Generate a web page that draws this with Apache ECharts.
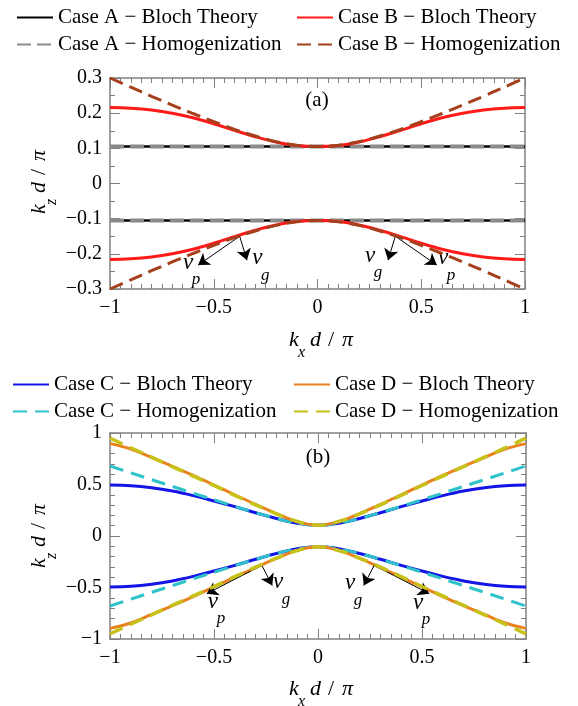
<!DOCTYPE html>
<html lang="en">
<head>
<meta charset="UTF-8">
<title>Bloch vs homogenization</title>
<style>
    html, body { margin: 0; padding: 0; background: #fff; }
    #main { width: 578px; height: 706px; }
</style>
</head>
<body>
<div id="main"></div>
<script src="https://cdn.jsdelivr.net/npm/echarts@6/dist/echarts.min.js"></script>
<script>
// kx d / pi sample points
var KX = [-1, -0.9, -0.8, -0.7, -0.6, -0.5, -0.4, -0.3, -0.2, -0.1, 0, 0.1, 0.2, 0.3, 0.4, 0.5, 0.6, 0.7, 0.8, 0.9, 1];

// (a) kz d / pi
var A_BLOCH_UP = [0.105, 0.105, 0.105, 0.105, 0.105, 0.105, 0.105, 0.105, 0.105, 0.105, 0.105, 0.105, 0.105, 0.105, 0.105, 0.105, 0.105, 0.105, 0.105, 0.105, 0.105];
var A_BLOCH_LO = [-0.105, -0.105, -0.105, -0.105, -0.105, -0.105, -0.105, -0.105, -0.105, -0.105, -0.105, -0.105, -0.105, -0.105, -0.105, -0.105, -0.105, -0.105, -0.105, -0.105, -0.105];
var A_HOM_UP = [0.105, 0.105, 0.105, 0.105, 0.105, 0.105, 0.105, 0.105, 0.105, 0.105, 0.105, 0.105, 0.105, 0.105, 0.105, 0.105, 0.105, 0.105, 0.105, 0.105, 0.105];
var A_HOM_LO = [-0.105, -0.105, -0.105, -0.105, -0.105, -0.105, -0.105, -0.105, -0.105, -0.105, -0.105, -0.105, -0.105, -0.105, -0.105, -0.105, -0.105, -0.105, -0.105, -0.105, -0.105];
var B_BLOCH_UP = [0.216, 0.214, 0.209, 0.200, 0.187, 0.170, 0.151, 0.133, 0.118, 0.108, 0.105, 0.108, 0.118, 0.133, 0.151, 0.170, 0.187, 0.200, 0.209, 0.214, 0.216];
var B_BLOCH_LO = [-0.216, -0.214, -0.209, -0.200, -0.187, -0.170, -0.151, -0.133, -0.118, -0.108, -0.105, -0.108, -0.118, -0.133, -0.151, -0.170, -0.187, -0.200, -0.209, -0.214, -0.216];
var B_HOM_UP = [0.300, 0.274, 0.248, 0.223, 0.199, 0.176, 0.154, 0.135, 0.119, 0.109, 0.105, 0.109, 0.119, 0.135, 0.154, 0.176, 0.199, 0.223, 0.248, 0.274, 0.300];
var B_HOM_LO = [-0.300, -0.274, -0.248, -0.223, -0.199, -0.176, -0.154, -0.135, -0.119, -0.109, -0.105, -0.109, -0.119, -0.135, -0.154, -0.176, -0.199, -0.223, -0.248, -0.274, -0.300];

// (b) kz d / pi
var C_BLOCH_UP = [0.495, 0.488, 0.468, 0.436, 0.392, 0.340, 0.285, 0.226, 0.170, 0.124, 0.105, 0.124, 0.170, 0.226, 0.285, 0.340, 0.392, 0.436, 0.468, 0.488, 0.495];
var C_BLOCH_LO = [-0.495, -0.488, -0.468, -0.436, -0.392, -0.340, -0.285, -0.226, -0.170, -0.124, -0.105, -0.124, -0.170, -0.226, -0.285, -0.340, -0.392, -0.436, -0.468, -0.488, -0.495];
var C_HOM_UP = [0.680, 0.613, 0.547, 0.482, 0.416, 0.352, 0.288, 0.227, 0.170, 0.125, 0.105, 0.125, 0.170, 0.227, 0.288, 0.352, 0.416, 0.482, 0.547, 0.613, 0.680];
var C_HOM_LO = [-0.680, -0.613, -0.547, -0.482, -0.416, -0.352, -0.288, -0.227, -0.170, -0.125, -0.105, -0.125, -0.170, -0.227, -0.288, -0.352, -0.416, -0.482, -0.547, -0.613, -0.680];
var D_BLOCH_UP = [0.897, 0.845, 0.762, 0.677, 0.588, 0.495, 0.400, 0.307, 0.218, 0.140, 0.105, 0.140, 0.218, 0.307, 0.400, 0.495, 0.588, 0.677, 0.762, 0.845, 0.897];
var D_BLOCH_LO = [-0.897, -0.845, -0.762, -0.677, -0.588, -0.495, -0.400, -0.307, -0.218, -0.140, -0.105, -0.140, -0.218, -0.307, -0.400, -0.495, -0.588, -0.677, -0.762, -0.845, -0.897];
var D_HOM_UP = [0.950, 0.857, 0.765, 0.673, 0.582, 0.490, 0.395, 0.303, 0.216, 0.141, 0.105, 0.141, 0.216, 0.303, 0.395, 0.490, 0.582, 0.673, 0.765, 0.857, 0.950];
var D_HOM_LO = [-0.950, -0.857, -0.765, -0.673, -0.582, -0.490, -0.395, -0.303, -0.216, -0.141, -0.105, -0.141, -0.216, -0.303, -0.395, -0.490, -0.582, -0.673, -0.765, -0.857, -0.950];

var NAMES = [
    'Case A − Bloch Theory', 'Case A − Homogenization',
    'Case B − Bloch Theory', 'Case B − Homogenization',
    'Case C − Bloch Theory', 'Case C − Homogenization',
    'Case D − Bloch Theory', 'Case D − Homogenization'
];

// vp / vg arrows: [from, to] in data coords, per panel
var ARROWS_A = [[[-0.375, -0.150], [-0.575, -0.232]], [[-0.375, -0.150], [-0.34, -0.218]],
                [[0.375, -0.150], [0.575, -0.232]], [[0.375, -0.150], [0.34, -0.218]]];
var ARROWS_B = [[[-0.27, -0.285], [-0.535, -0.56]], [[-0.27, -0.285], [-0.22, -0.48]],
                [[0.27, -0.285], [0.535, -0.56]], [[0.27, -0.285], [0.22, -0.48]]];
// arrow labels: [kx, kz, subscript]
var LABELS_A = [[-0.624, -0.225, 'p'], [-0.29, -0.212, 'g'], [0.253, -0.205, 'g'], [0.605, -0.212, 'p']];
var LABELS_B = [[-0.505, -0.64, 'p'], [-0.192, -0.45, 'g'], [0.154, -0.46, 'g'], [0.481, -0.65, 'p']];

var FONT = 'Liberation Serif';
var chart = echarts.init(document.getElementById('main'));

function pairs(ys) {
    return KX.map(function (x, i) { return [x, ys[i]]; });
}

function fmt(v) {
    return String(v).replace('-', '−');
}

function line(name, ys, color, width, dash, xi, z) {
    return {
        name: name,
        type: 'line',
        xAxisIndex: xi,
        yAxisIndex: xi,
        data: pairs(ys),
        smooth: 0.4,
        symbol: 'none',
        z: z,
        lineStyle: { color: color, width: width, type: dash || 'solid' },
        itemStyle: { color: color },
        emphasis: { disabled: true },
        animation: false
    };
}

function arrowLine(arrows, xi) {
    return {
        type: 'line',
        xAxisIndex: xi,
        yAxisIndex: xi,
        data: [],
        z: 20,
        markLine: {
            silent: true,
            animation: false,
            symbol: ['none', 'arrow'],
            symbolSize: 11,
            label: { show: false },
            itemStyle: { color: '#000' },
            lineStyle: { color: '#000', width: 1, type: 'solid' },
            data: arrows.map(function (a) {
                return [{ coord: a[0] }, { coord: a[1] }];
            })
        }
    };
}

function xAx(grid, pos) {
    return {
        type: 'value', gridIndex: grid, position: pos,
        min: -1, max: 1, interval: 0.5,
        axisLine: { onZero: false, lineStyle: { color: '#808080', width: 1.5 } },
        axisTick: { inside: true, length: 10, lineStyle: { color: '#808080' } },
        minorTick: { show: true, splitNumber: 10, length: 5, lineStyle: { color: '#808080' } },
        splitLine: { show: false },
        axisLabel: {
            show: pos === 'bottom', margin: 9, color: '#000',
            fontFamily: FONT, fontSize: 20, formatter: fmt
        }
    };
}

function yAx(grid, pos, min, max, step, minor) {
    return {
        type: 'value', gridIndex: grid, position: pos,
        min: min, max: max, interval: step,
        axisLine: { onZero: false, lineStyle: { color: '#808080', width: 1.5 } },
        axisTick: { inside: true, length: 10, lineStyle: { color: '#808080' } },
        minorTick: { show: true, splitNumber: minor, length: 5, lineStyle: { color: '#808080' } },
        splitLine: { show: false },
        axisLabel: {
            show: pos === 'left', margin: 8, color: '#000',
            fontFamily: FONT, fontSize: 20, formatter: fmt
        }
    };
}

function legendCol(left, top, names) {
    return {
        orient: 'vertical', left: left, top: top, padding: 0,
        itemWidth: 36, itemHeight: 14, itemGap: 6,
        selectedMode: false,
        itemStyle: { opacity: 0 },
        textStyle: { fontFamily: FONT, fontSize: 21, color: '#000', lineHeight: 20 },
        data: names
    };
}

var option = {
    backgroundColor: '#fff',
    animation: false,
    grid: [
        { left: 110, right: 53, top: 78, height: 211 },
        { left: 110, right: 52, top: 433, height: 206 }
    ],
    legend: [
        legendCol(16, 7, [NAMES[0], NAMES[1]]),
        legendCol(296, 7, [NAMES[2], NAMES[3]]),
        legendCol(12, 374, [NAMES[4], NAMES[5]]),
        legendCol(293, 374, [NAMES[6], NAMES[7]])
    ],
    xAxis: [xAx(0, 'bottom'), xAx(0, 'top'), xAx(1, 'bottom'), xAx(1, 'top')],
    yAxis: [
        yAx(0, 'left', -0.3, 0.3, 0.1, 2), yAx(0, 'right', -0.3, 0.3, 0.1, 2),
        yAx(1, 'left', -1, 1, 0.5, 5), yAx(1, 'right', -1, 1, 0.5, 5)
    ],
    series: [
        line(NAMES[0], A_BLOCH_UP, '#000000', 2.5, null, 0, 2),
        line(NAMES[0], A_BLOCH_LO, '#000000', 2.5, null, 0, 2),
        line(NAMES[1], A_HOM_UP, '#8a8a8a', 4, [14, 6], 0, 3),
        line(NAMES[1], A_HOM_LO, '#8a8a8a', 4, [14, 6], 0, 3),
        line(NAMES[2], B_BLOCH_UP, '#ff1a1a', 3, null, 0, 4),
        line(NAMES[2], B_BLOCH_LO, '#ff1a1a', 3, null, 0, 4),
        line(NAMES[3], B_HOM_UP, '#a5401c', 3, [14, 7], 0, 5),
        line(NAMES[3], B_HOM_LO, '#a5401c', 3, [14, 7], 0, 5),
        arrowLine(ARROWS_A, 0),

        line(NAMES[4], C_BLOCH_UP, '#1414e6', 3, null, 2, 2),
        line(NAMES[4], C_BLOCH_LO, '#1414e6', 3, null, 2, 2),
        line(NAMES[5], C_HOM_UP, '#2ec3c8', 3, [14, 8], 2, 3),
        line(NAMES[5], C_HOM_LO, '#2ec3c8', 3, [14, 8], 2, 3),
        line(NAMES[6], D_BLOCH_UP, '#e8821e', 3, null, 2, 4),
        line(NAMES[6], D_BLOCH_LO, '#e8821e', 3, null, 2, 4),
        line(NAMES[7], D_HOM_UP, '#c6c21a', 3.5, [14, 8], 2, 5),
        line(NAMES[7], D_HOM_LO, '#c6c21a', 3.5, [14, 8], 2, 5),
        arrowLine(ARROWS_B, 2)
    ]
};

chart.setOption(option);

// axis title "k_sub d / pi" as a group of texts; local origin = centre of the title
function txt(x, y, s, font, align) {
    return {
        type: 'text', x: x, y: y, silent: true,
        style: { text: s, font: font, fill: '#000', align: align || 'left', verticalAlign: 'middle' }
    };
}

function nameText(x, y, sub, rot) {
    return {
        type: 'group', x: x, y: y, rotation: rot, silent: true,
        children: [
            txt(-33, 0, 'k', 'italic 22px "Liberation Serif"'),
            txt(-24, 13, sub, 'italic 16px "Liberation Serif"'),
            txt(-12, 0, 'd', 'italic 22px "Liberation Serif"'),
            txt(6, 0, '/', '22px "Liberation Serif"'),
            txt(20, 0, 'π', 'italic 22px "Liberation Serif"')
        ]
    };
}

var graphics = [
    nameText(322, 340, 'x', 0),
    nameText(322, 689, 'x', 0),
    nameText(39, 181, 'z', Math.PI / 2),
    nameText(39, 535, 'z', Math.PI / 2),
    txt(317, 100, '(a)', '21px "Liberation Serif"', 'center'),
    txt(318, 457, '(b)', '21px "Liberation Serif"', 'center')
];

function addLabels(list, grid) {
    list.forEach(function (l) {
        var p = chart.convertToPixel({ gridIndex: grid }, [l[0], l[1]]);
        graphics.push(txt(p[0], p[1], 'v', 'italic 23px "Liberation Serif"', 'center'));
        graphics.push(txt(p[0] + 8, p[1] + 17, l[2], 'italic 17px "Liberation Serif"', 'center'));
    });
}
addLabels(LABELS_A, 0);
addLabels(LABELS_B, 1);

chart.setOption({ graphic: graphics });
</script>
</body>
</html>
